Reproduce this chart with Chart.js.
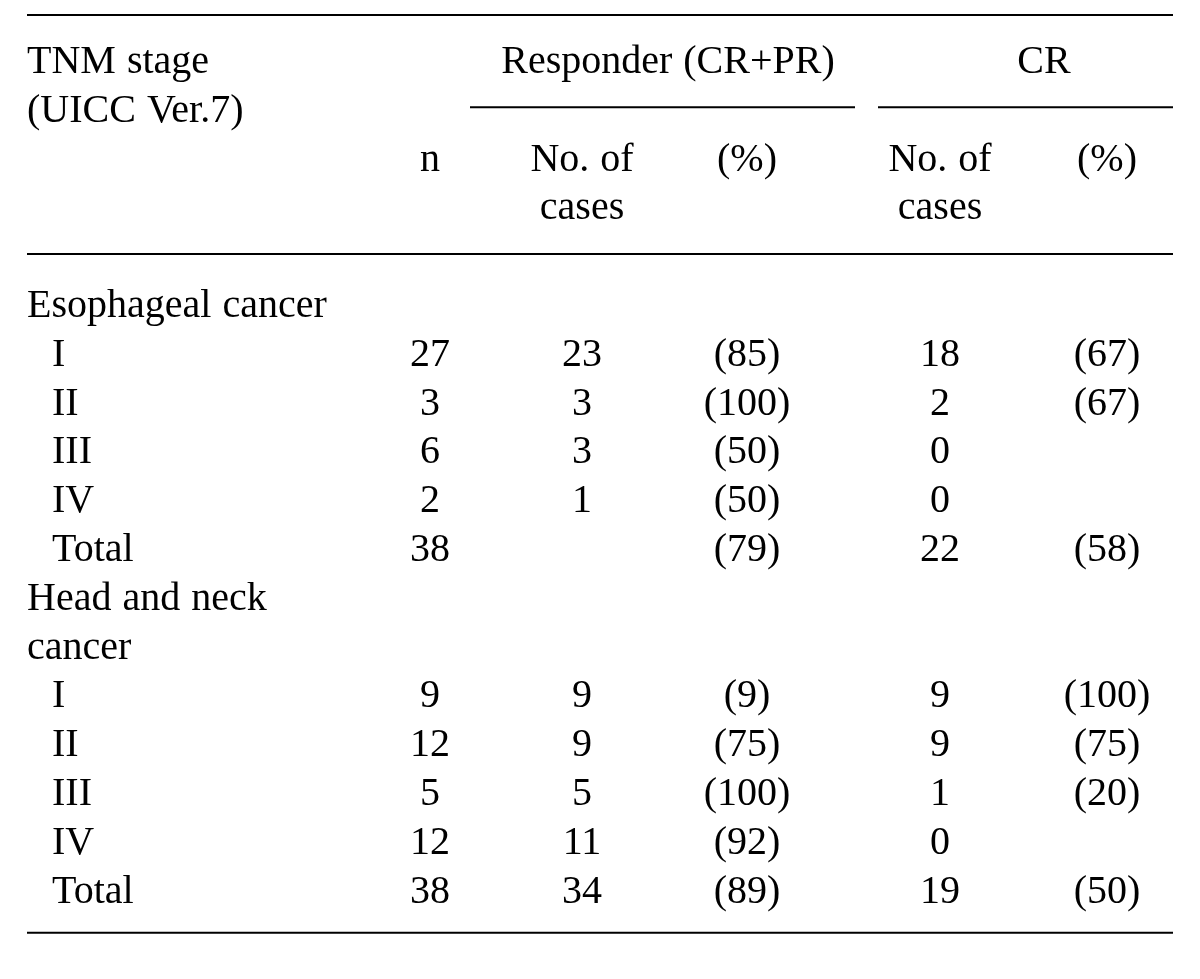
<!DOCTYPE html>
<html>
<head>
<meta charset="utf-8">
<script src="https://cdn.jsdelivr.net/npm/chart.js@4.4.1/dist/chart.umd.min.js"></script>
<style>
  html, body { margin: 0; padding: 0; background: #ffffff; }
  #wrap { width: 1200px; height: 979px; position: relative; }
</style>
</head>
<body>
<div id="wrap"><canvas id="c"></canvas></div>
<script>
// ---------- data ----------
const rowLabels = ["Esophageal cancer", "I", "II", "III", "IV", "Total",
                   "Head and neck", "cancer", "I", "II", "III", "IV", "Total"];
const rowIsGroup = [true, false, false, false, false, false, true, true, false, false, false, false, false];
const nValues        = [null, 27, 3, 6, 2, 38, null, null, 9, 12, 5, 12, 38];
const responderCases = [null, 23, 3, 3, 1, null, null, null, 9, 9, 5, 11, 34];
const responderPct   = [null, 85, 100, 50, 50, 79, null, null, 9, 75, 100, 92, 89];
const crCases        = [null, 18, 2, 0, 0, 22, null, null, 9, 9, 1, 0, 19];
const crPct          = [null, 67, 67, null, null, 58, null, null, 100, 75, 20, null, 50];

const stubHeader = ["TNM stage", "(UICC Ver.7)"];
const groupHeaders = ["Responder (CR+PR)", "CR"];
const subHeaders = [["n"], ["No. of", "cases"], ["(%)"], ["No. of", "cases"], ["(%)"]];

// ---------- layout (positions in scale units) ----------
const colX = { stub: 27, indent: 52, n: 430, rc: 582, rp: 747, cc: 940, cp: 1107 };
const groupX = [668, 1044];
const firstBodyRow = 5;          // row index of first body line
const rowPitch = 48.8, firstBaseline = 73, H = 979, W = 1200;
const yMin = -firstBaseline / rowPitch;
const yMax = yMin + H / rowPitch;
const rules = [
  { y: -1.19, x0: 27, x1: 1173, w: 2 },
  { y: 0.70, x0: 470, x1: 855, w: 2 },
  { y: 0.70, x0: 878, x1: 1173, w: 2 },
  { y: 3.71, x0: 27, x1: 1173, w: 2 },
  { y: 17.62, x0: 27, x1: 1173, w: 2 }
];

// ---------- build datasets ----------
function textDataset(points, align) {
  return {
    type: 'scatter',
    data: points.map(p => ({ x: p.x, y: p.y })),
    cellText: points.map(p => p.t),
    cellAlign: align,
    pointRadius: 0, pointHoverRadius: 0, showLine: false
  };
}
const datasets = [];
rules.forEach(r => datasets.push({
  type: 'line',
  data: [{ x: r.x0, y: r.y }, { x: r.x1, y: r.y }],
  borderColor: '#000000', borderWidth: r.w, pointRadius: 0, fill: false, tension: 0
}));
datasets.push(textDataset(stubHeader.map((t, i) => ({ x: colX.stub, y: i, t })), 'left'));
datasets.push(textDataset(groupHeaders.map((t, i) => ({ x: groupX[i], y: 0, t })), 'center'));
const subCols = [colX.n, colX.rc, colX.rp, colX.cc, colX.cp];
const subPts = [];
subHeaders.forEach((lines, ci) => lines.forEach((t, li) => subPts.push({ x: subCols[ci], y: 2 + li, t })));
datasets.push(textDataset(subPts, 'center'));
datasets.push(textDataset(rowLabels.map((t, i) => ({ x: rowIsGroup[i] ? colX.stub : colX.indent, y: firstBodyRow + i, t })), 'left'));
function numCol(values, x, fmt) {
  const pts = [];
  values.forEach((v, i) => { if (v !== null) pts.push({ x, y: firstBodyRow + i, t: fmt(v) }); });
  return textDataset(pts, 'center');
}
const plain = v => String(v), paren = v => '(' + v + ')';
datasets.push(numCol(nValues, colX.n, plain));
datasets.push(numCol(responderCases, colX.rc, plain));
datasets.push(numCol(responderPct, colX.rp, paren));
datasets.push(numCol(crCases, colX.cc, plain));
datasets.push(numCol(crPct, colX.cp, paren));

// ---------- plugin drawing cell text at the scale positions ----------
const cellTextPlugin = {
  id: 'cellText',
  afterDatasetsDraw(chart) {
    const ctx = chart.ctx;
    ctx.save();
    ctx.fillStyle = '#000000';
    ctx.font = '40px "Liberation Serif", "Times New Roman", serif';
    ctx.textBaseline = 'alphabetic';
    if ('wordSpacing' in ctx) ctx.wordSpacing = '1px';
    chart.data.datasets.forEach((ds, di) => {
      if (!ds.cellText) return;
      const meta = chart.getDatasetMeta(di);
      ctx.textAlign = ds.cellAlign;
      meta.data.forEach((el, i) => ctx.fillText(ds.cellText[i], el.x, el.y));
    });
    ctx.restore();
  }
};

new Chart(document.getElementById('c'), {
  type: 'scatter',
  data: { datasets },
  options: {
    responsive: true,
    maintainAspectRatio: false,
    animation: false,
    events: [],
    layout: { padding: 0 },
    plugins: { legend: { display: false }, tooltip: { enabled: false } },
    scales: {
      x: { type: 'linear', min: 0, max: W, display: false },
      y: { type: 'linear', min: yMin, max: yMax, reverse: true, display: false }
    }
  },
  plugins: [cellTextPlugin]
});
</script>
</body>
</html>
